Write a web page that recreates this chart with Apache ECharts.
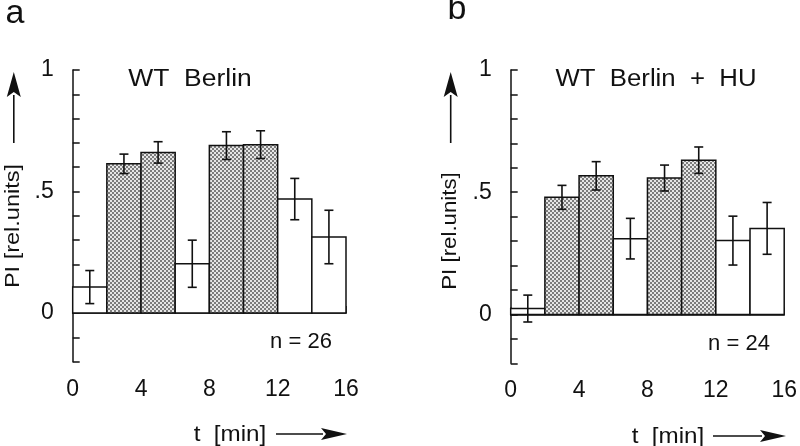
<!DOCTYPE html>
<html>
<head>
<meta charset="utf-8">
<script src="https://cdn.jsdelivr.net/npm/echarts@6/dist/echarts.min.js"></script>
<style>
  html, body { margin: 0; padding: 0; background: #fff; }
  #chart { width: 800px; height: 446px; }
</style>
</head>
<body>
<div id="chart"></div>
<script>
// time bins in minutes
const binStart = [0, 2, 4, 6, 8, 10, 12, 14];
const binEnd = [2, 4, 6, 8, 10, 12, 14, 16];
const heated = [false, true, true, false, true, true, false, false];

// panel a: WT Berlin
const piA = [0.107, 0.614, 0.661, 0.203, 0.689, 0.693, 0.469, 0.313];
const semA = [0.068, 0.040, 0.044, 0.097, 0.057, 0.057, 0.085, 0.110];
// panel b: WT Berlin + HU
const piB = [0.024, 0.479, 0.567, 0.310, 0.558, 0.631, 0.302, 0.352];
const semB = [0.055, 0.049, 0.058, 0.083, 0.053, 0.054, 0.100, 0.106];

const xTickLabels = ['0', '4', '8', '12', '16'];
const yTickLabels = { '0': '0', '0.5': '.5', '1': '1' };

const FONT = '"Liberation Sans", Arial, sans-serif';
const INK = '#111';

// stipple fill
const cv = document.createElement('canvas');
cv.width = 4; cv.height = 4;
const cx = cv.getContext('2d');
cx.fillStyle = '#e6e6e6'; cx.fillRect(0, 0, 4, 4);
cx.fillStyle = '#7c7c7c'; cx.fillRect(0, 0, 2, 2); cx.fillRect(2, 2, 2, 2);
const stipple = { image: cv, repeat: 'repeat' };

const chart = echarts.init(document.getElementById('chart'), null, { renderer: 'canvas' });

function xAxisFor(i) {
  return {
    gridIndex: i, type: 'value', min: 0, max: 16, interval: 2, offset: 9,
    axisLine: { lineStyle: { color: INK, width: 1.5 } },
    axisTick: { inside: true, length: 7, lineStyle: { color: INK, width: 1.5 } },
    axisLabel: {
      margin: 7, color: INK, fontSize: 23, fontFamily: FONT,
      formatter: v => xTickLabels.includes(String(v)) ? String(v) : ''
    },
    splitLine: { show: false }
  };
}
function yAxisFor(i) {
  return {
    gridIndex: i, type: 'value', min: -0.2, max: 1, interval: 0.1, offset: 14,
    axisLine: { show: true, lineStyle: { color: INK, width: 1.5 } },
    axisTick: { show: true, inside: true, length: 7, lineStyle: { color: INK, width: 1.5 } },
    axisLabel: {
      margin: 5, color: INK, fontSize: 23, fontFamily: FONT,
      formatter: v => yTickLabels[String(Math.round(v * 10) / 10)] || ''
    },
    splitLine: { show: false }
  };
}

function barSeries(i, vals) {
  return {
    type: 'custom', xAxisIndex: i, yAxisIndex: i,
    data: vals.map((v, k) => [binStart[k], binEnd[k], v, heated[k] ? 1 : 0]),
    renderItem: (params, api) => {
      const p0 = api.coord([api.value(0), 0]);
      const p1 = api.coord([api.value(1), api.value(2)]);
      return {
        type: 'rect',
        shape: { x: p0[0], y: Math.min(p0[1], p1[1]), width: p1[0] - p0[0], height: Math.abs(p1[1] - p0[1]) },
        style: { fill: api.value(3) ? stipple : '#fff', stroke: INK, lineWidth: 1.5 }
      };
    },
    z: 2
  };
}
function errSeries(i, vals, sem) {
  return {
    type: 'custom', xAxisIndex: i, yAxisIndex: i,
    data: vals.map((v, k) => [(binStart[k] + binEnd[k]) / 2, v - sem[k], v + sem[k]]),
    renderItem: (params, api) => {
      const lo = api.coord([api.value(0), api.value(1)]);
      const hi = api.coord([api.value(0), api.value(2)]);
      const w = 4.5;
      const st = { stroke: INK, lineWidth: 1.6 };
      return {
        type: 'group',
        children: [
          { type: 'line', shape: { x1: lo[0], y1: lo[1], x2: hi[0], y2: hi[1] }, style: st },
          { type: 'line', shape: { x1: lo[0] - w, y1: lo[1], x2: lo[0] + w, y2: lo[1] }, style: st },
          { type: 'line', shape: { x1: hi[0] - w, y1: hi[1], x2: hi[0] + w, y2: hi[1] }, style: st }
        ]
      };
    },
    z: 3
  };
}

function txt(text, x, y, size, opts) {
  return Object.assign({
    type: 'text', x: x, y: y,
    style: { text: text, fill: INK, font: size + 'px ' + FONT, align: 'center', verticalAlign: 'middle' }
  }, opts || {});
}
function upArrow(x, tip, base, bottom) {
  return [
    { type: 'line', shape: { x1: x, y1: bottom, x2: x, y2: base - 2 }, style: { stroke: INK, lineWidth: 1.6 } },
    { type: 'polygon', shape: { points: [[x, tip], [x - 7, base], [x, base - 5], [x + 7, base]] }, style: { fill: INK } }
  ];
}
function rightArrow(y, start, base, tip) {
  return [
    { type: 'line', shape: { x1: start, y1: y, x2: base + 2, y2: y }, style: { stroke: INK, lineWidth: 1.6 } },
    { type: 'polygon', shape: { points: [[tip, y], [base, y - 6], [base + 5, y], [base, y + 6]] }, style: { fill: INK } }
  ];
}

chart.setOption({
  animation: false,
  backgroundColor: '#fff',
  grid: [
    { left: 72.7, top: 70, width: 273.3, height: 291.7 },
    { left: 510.7, top: 70, width: 274.3, height: 293.3 }
  ],
  xAxis: [xAxisFor(0), xAxisFor(1)],
  yAxis: [yAxisFor(0), yAxisFor(1)],
  series: [barSeries(0, piA), errSeries(0, piA, semA), barSeries(1, piB), errSeries(1, piB, semB)],
  graphic: [
    txt('a', 15, 14, 34),
    txt('b', 457, 10, 34),
    txt('WT  Berlin', 190, 80, 23, { scaleX: 1.15 }),
    txt('WT  Berlin  +  HU', 656, 80, 23, { scaleX: 1.12 }),
    txt('n = 26', 301, 342, 22),
    txt('n = 24', 739, 344, 22),
    txt('PI [rel.units]', 13, 226, 21, { rotation: Math.PI / 2, scaleX: 1.12 }),
    txt('PI [rel.units]', 450, 231, 21, { rotation: Math.PI / 2, scaleX: 1.06 }),
    txt('t  [min]', 230, 435, 22, { scaleX: 1.1 }),
    txt('t  [min]', 668, 437, 22, { scaleX: 1.1 }),
    ...upArrow(13.8, 72, 97, 143),
    ...upArrow(450.7, 72, 97, 143),
    ...rightArrow(434, 276, 321, 347),
    ...rightArrow(436, 713, 760, 786)
  ]
});
</script>
</body>
</html>
